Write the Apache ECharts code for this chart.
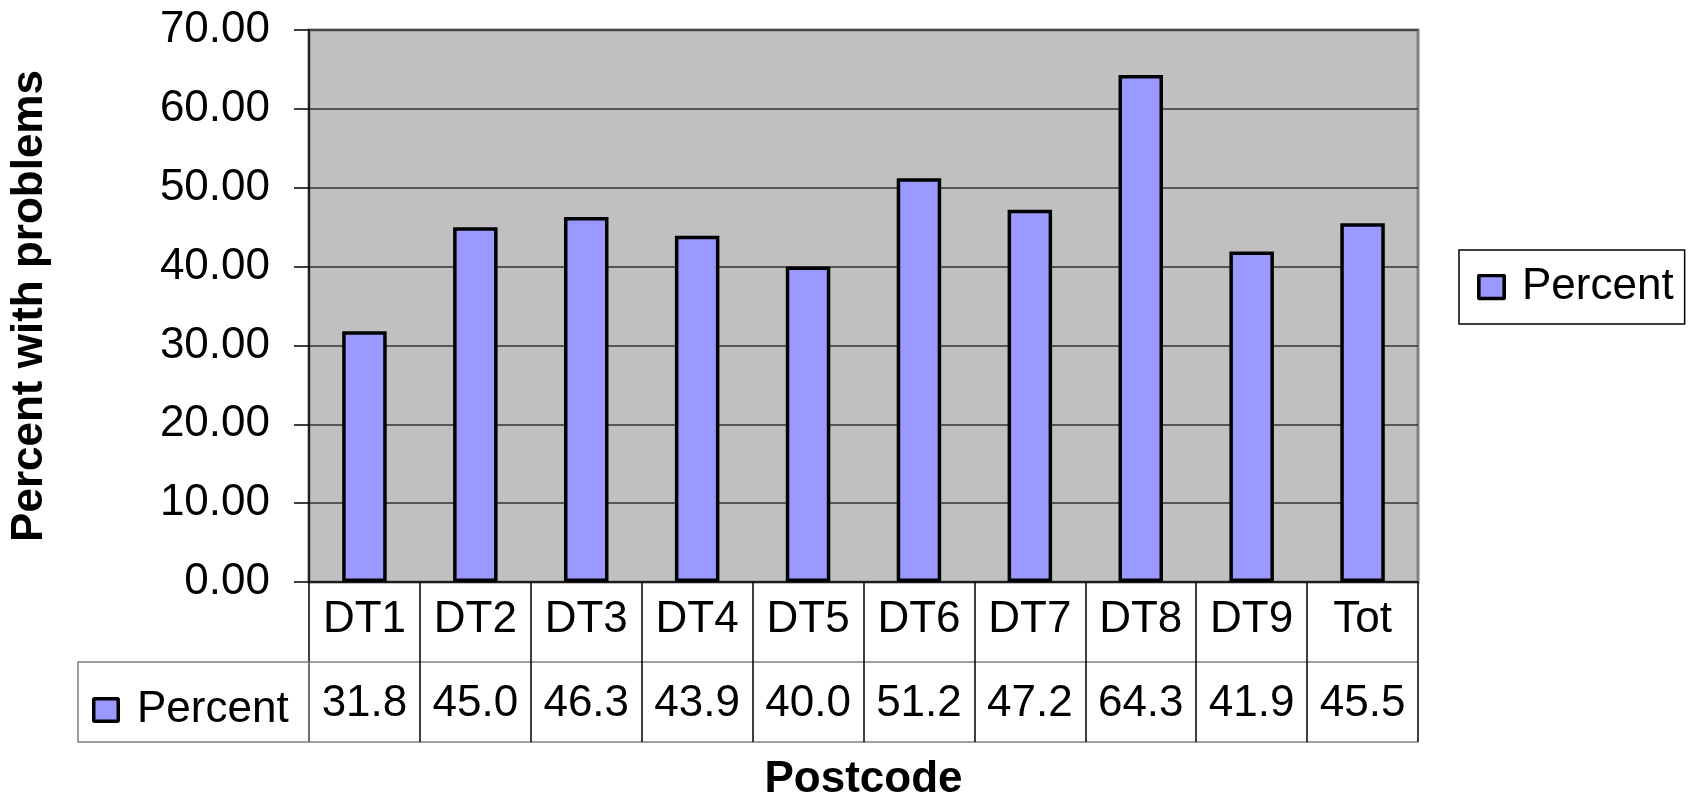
<!DOCTYPE html>
<html>
<head>
<meta charset="utf-8">
<script src="https://cdn.jsdelivr.net/npm/echarts@6/dist/echarts.min.js"></script>
<style>
html,body{margin:0;padding:0;background:#fff;}
#chart{width:1698px;height:803px;}
</style>
</head>
<body>
<div id="chart"></div>
<script>
const categories = ['DT1','DT2','DT3','DT4','DT5','DT6','DT7','DT8','DT9','Tot'];
const percentValues = [31.8, 45.0, 46.3, 43.9, 40.0, 51.2, 47.2, 64.3, 41.9, 45.5];
const seriesName = 'Percent';
const yTitle = 'Percent with problems';
const xTitle = 'Postcode';
const tableRows = ['names', 'values'];

const FONT = 'Liberation Sans';
const chart = echarts.init(document.getElementById('chart'));

const iconSvg = 'image://data:image/svg+xml;charset=utf-8,' + encodeURIComponent(
  '<svg xmlns="http://www.w3.org/2000/svg" width="28" height="26" viewBox="0 0 28 26">' +
  '<rect x="1.75" y="1.75" width="24.5" height="22.5" rx="1" fill="#9999FF" stroke="#000" stroke-width="3.5"/></svg>');

const option = {
  animation: false,
  textStyle: { fontFamily: FONT, color: '#000' },
  grid: [
    { left: 309, top: 30, width: 1109, height: 552, show: true,
      backgroundColor: '#C0C0C0', borderColor: '#808080', borderWidth: 3 },
    { left: 309, top: 582, width: 1109, height: 160, show: false }
  ],
  graphic: [
    { type: 'rect', shape: { x: 78, y: 662, width: 231, height: 80 },
      style: { fill: 'none', stroke: '#808080', lineWidth: 1.5 }, z: 1 }
  ],
  legend: [
    { data: [seriesName], orient: 'vertical', left: 1459, top: 250,
      padding: [15, 11, 15, 18], itemWidth: 29, itemHeight: 27,
      backgroundColor: '#fff', borderColor: '#000', borderWidth: 1.5,
      icon: iconSvg,
      textStyle: { fontFamily: FONT, fontSize: 44, color: '#000', lineHeight: 44, padding: [0,0,0,11] } },
    { data: [seriesName], orient: 'vertical', left: 92, top: 688,
      padding: 0, itemWidth: 28, itemHeight: 26, icon: iconSvg,
      textStyle: { fontFamily: FONT, fontSize: 44, color: '#000', lineHeight: 44, padding: [0,0,0,12] } }
  ],
  xAxis: [
    { type: 'category', gridIndex: 0, data: categories,
      axisLine: { show: true, lineStyle: { color: '#000', width: 1.5 } },
      axisTick: { show: false },
      axisLabel: { interval: 0, fontFamily: FONT, fontSize: 44, color: '#000', margin: 38, verticalAlign: 'middle' } },
    { type: 'category', gridIndex: 0, position: 'bottom', offset: 82,
      data: percentValues.map(v => v.toFixed(1)),
      axisLine: { show: false }, axisTick: { show: false },
      axisLabel: { interval: 0, fontFamily: FONT, fontSize: 44, color: '#000', margin: 40, verticalAlign: 'middle' } },
    { type: 'category', gridIndex: 1, data: categories,
      axisLine: { show: false }, axisTick: { show: false }, axisLabel: { show: false },
      splitLine: { show: true, interval: 0, lineStyle: { color: '#000', width: 1.5 } },
      name: xTitle, nameLocation: 'middle', nameGap: 16,
      nameTextStyle: { fontFamily: FONT, fontSize: 44, fontWeight: 'bold', color: '#000' } }
  ],
  yAxis: [
    { type: 'value', gridIndex: 0, min: 0, max: 70, interval: 10,
      axisLine: { show: true, lineStyle: { color: '#000', width: 1.5 } },
      axisTick: { show: true, length: 15, lineStyle: { color: '#000', width: 1.5 } },
      axisLabel: { fontFamily: FONT, fontSize: 44, color: '#000', margin: 39,
        formatter: v => v.toFixed(2) },
      splitLine: { show: true, lineStyle: { color: '#333', width: 1.5 } },
      name: yTitle, nameLocation: 'middle', nameRotate: 90, nameGap: 257,
      nameTextStyle: { fontFamily: FONT, fontSize: 44, fontWeight: 'bold', color: '#000' } },
    { type: 'category', gridIndex: 1, data: tableRows, inverse: true,
      axisLine: { show: false }, axisTick: { show: false }, axisLabel: { show: false },
      splitLine: { show: true, lineStyle: { color: '#808080', width: 1.5 } } }
  ],
  series: [
    { name: seriesName, type: 'bar', xAxisIndex: 0, yAxisIndex: 0,
      data: percentValues, barWidth: 44.5,
      itemStyle: { color: '#9999FF', borderColor: '#000', borderWidth: 3.5 } }
  ]
};
chart.setOption(option);
</script>
</body>
</html>
